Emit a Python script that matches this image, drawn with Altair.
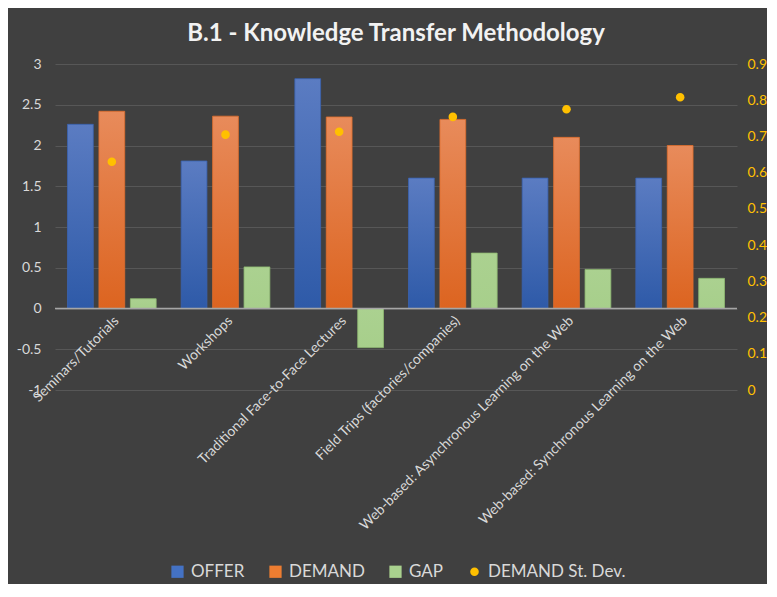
import altair as alt
import pandas as pd

categories = [
    "Seminars/Tutorials",
    "Workshops",
    "Traditional Face-to-Face Lectures",
    "Field Trips (factories/companies)",
    "Web-based: Asynchronous Learning on the Web",
    "Web-based: Synchronous Learning on the Web",
]
offer = [2.26, 1.81, 2.82, 1.60, 1.60, 1.60]
demand = [2.42, 2.36, 2.35, 2.32, 2.10, 2.00]
gap = [0.12, 0.51, -0.48, 0.68, 0.48, 0.37]
demand_sd = [0.63, 0.705, 0.713, 0.754, 0.775, 0.808]

series_names = ["OFFER", "DEMAND", "GAP", "DEMAND St. Dev."]
series_colors = ["#4472c4", "#ed7d31", "#a9d18e", "#ffc000"]
left_ticks = [-1, -0.5, 0, 0.5, 1, 1.5, 2, 2.5, 3]
right_ticks = [0, 0.1, 0.2, 0.3, 0.4, 0.5, 0.6, 0.7, 0.8, 0.9]

FONT = "Lato"
LABEL = "#d9d9d9"
PLOT_W = 682
PLOT_H = 326

rows = []
for i, c in enumerate(categories):
    rows.append({"cat": c, "series": "OFFER", "pos": "OFFER", "value": offer[i]})
    rows.append({"cat": c, "series": "DEMAND", "pos": "DEMAND", "value": demand[i]})
    rows.append({"cat": c, "series": "GAP", "pos": "GAP", "value": gap[i]})
bars_df = pd.DataFrame(rows)
dev_df = pd.DataFrame({
    "cat": categories,
    "series": ["DEMAND St. Dev."] * len(categories),
    "pos": ["DEMAND"] * len(categories),
    "value": demand_sd,
})

zero_from_bottom = PLOT_H * 1 / 4  # value 0 sits 1/4 up a [-1, 3] domain

x = alt.X(
    "cat:N", sort=categories, title=None,
    scale=alt.Scale(paddingInner=0.22, paddingOuter=0.11),
    axis=alt.Axis(labelAngle=-45, labelColor=LABEL, labelFontSize=14, labelFont=FONT,
                  domain=False, ticks=False, labelPadding=5, labelLimit=400,
                  offset=-zero_from_bottom),
)
xoff = alt.XOffset("pos:N", scale=alt.Scale(domain=["OFFER", "DEMAND", "GAP"], paddingInner=0.18))

left_scale = alt.Scale(domain=[-1, 3], nice=False)
left_axis = alt.Axis(values=left_ticks, title=None, labelColor=LABEL,
                     labelExpr="datum.value < 0 ? '-' + format(-datum.value, '~g') : format(datum.value, '~g')",
                     labelFontSize=14, labelFont=FONT, grid=True, gridColor="#575757",
                     domain=False, ticks=False, labelPadding=14)


def grad(top, bottom):
    return alt.Gradient(
        gradient="linear", x1=0, x2=0, y1=0, y2=1,
        stops=[alt.GradientStop(color=top, offset=0), alt.GradientStop(color=bottom, offset=1)],
    )


bar_fills = {
    "OFFER": grad("#5b7cc2", "#2e5aa8"),
    "DEMAND": grad("#e88b5b", "#dc6420"),
    "GAP": grad("#abd190", "#a7cf8b"),
}
bar_strokes = {"OFFER": "#3a62b0", "DEMAND": "#de6d2c", "GAP": "#8fba72"}

bar_layers = []
for s in ["OFFER", "DEMAND", "GAP"]:
    bar_layers.append(
        alt.Chart(bars_df).transform_filter(alt.datum.series == s)
        .mark_bar(fill=bar_fills[s], stroke=bar_strokes[s], strokeWidth=0.8)
        .encode(x=x, xOffset=xoff, y=alt.Y("value:Q", scale=left_scale, axis=left_axis))
    )
zero = alt.Chart(pd.DataFrame({"value": [0]})).mark_rule(color="#a6a6a6", strokeWidth=1.5).encode(
    y=alt.Y("value:Q", scale=left_scale, axis=left_axis)
)
left = alt.layer(*bar_layers, zero)

small_circle = "M-0.7,0A0.7,0.7,0,1,0,0.7,0A0.7,0.7,0,1,0,-0.7,0Z"
legend = alt.Legend(title=None, orient="none", legendX=114, legendY=499, direction="horizontal",
                    labelColor=LABEL, labelFontSize=17, labelFont=FONT, symbolSize=150,
                    symbolStrokeWidth=0, columnPadding=22, labelOffset=5, padding=0,
                    symbolOpacity=1)

points = alt.Chart(dev_df).mark_point(filled=True, opacity=1, size=150).encode(
    x=x, xOffset=xoff,
    y=alt.Y("value:Q", scale=alt.Scale(domain=[0, 0.9], nice=False),
            axis=alt.Axis(orient="right", values=right_ticks, title=None, format=".1~f",
                          labelColor="#ffc000", labelFontSize=14, labelFont=FONT, grid=False,
                          domain=False, ticks=False, labelPadding=10)),
    color=alt.Color("series:N", scale=alt.Scale(domain=series_names, range=series_colors),
                    legend=legend),
    shape=alt.Shape("series:N", scale=alt.Scale(domain=series_names,
                    range=["square", "square", "square", small_circle]), legend=legend),
)

chart = alt.layer(left, points).resolve_scale(y="independent").properties(
    width=PLOT_W, height=PLOT_H,
    title=alt.Title("B.1 - Knowledge Transfer Methodology", fontSize=24, fontWeight="bold",
                    color="#f2f2f2", font=FONT, offset=11),
    background="#404040",
    padding={"left": 8, "top": 14, "right": 0, "bottom": 4},
).configure_view(stroke=None)

chart.save("out.html", embed_options={"renderer": "svg", "actions": False})
